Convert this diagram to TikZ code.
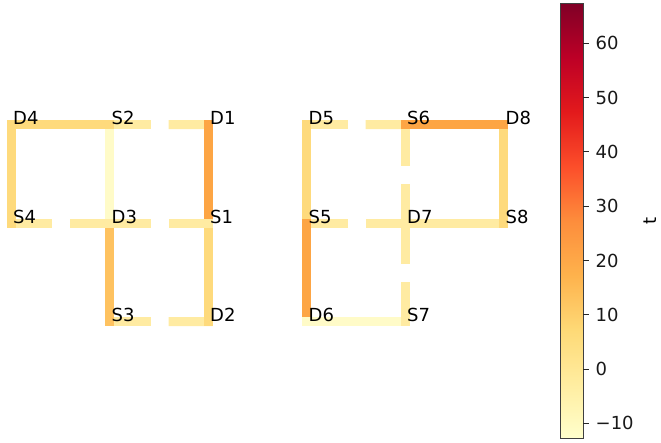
\documentclass[tikz,border=0pt]{standalone}
\usepackage{fontspec}
\setmainfont{DejaVu Sans}
\usetikzlibrary{calc}
\definecolor{cVL}{HTML}{FFFBC8}
\definecolor{cL}{HTML}{FFEBA2}
\definecolor{cG}{HTML}{FEDA7C}
\definecolor{cM}{HTML}{FEC260}
\definecolor{cO}{HTML}{FDA544}
\definecolor{yA}{HTML}{FFFFCC}
\definecolor{yB}{HTML}{FFEDA0}
\definecolor{yC}{HTML}{FED976}
\definecolor{yD}{HTML}{FEB24C}
\definecolor{yE}{HTML}{FD8D3C}
\definecolor{yF}{HTML}{FC4E2A}
\definecolor{yG}{HTML}{E31A1C}
\definecolor{yH}{HTML}{BD0026}
\definecolor{yI}{HTML}{800026}
\pgfdeclareverticalshading{ylorrd}{100bp}{color(0bp)=(yA); color(25bp)=(yA); color(31.25bp)=(yB); color(37.5bp)=(yC); color(43.75bp)=(yD); color(50bp)=(yE); color(56.25bp)=(yF); color(62.5bp)=(yG); color(68.75bp)=(yH); color(75bp)=(yI); color(100bp)=(yI)}
\tikzset{
  edge/.style={line width=9pt, line cap=rect},
  lbl/.style={anchor=base west, inner sep=0pt, xshift=2pt, font=\fontsize{18}{18}\selectfont, text=black},
  ticklbl/.style={anchor=west, inner sep=0pt, font=\fontsize{18}{18}\selectfont, text=black!90},
  tickmark/.style={line width=1pt, draw=black!85}
}
\newcommand{\gapedge}[3]{%
  \draw[edge,#3] (#1) -- ($(#1)!0.375!(#2)$);
  \draw[edge,#3] ($(#1)!0.645!(#2)$) -- (#2);}
\begin{document}
\begin{tikzpicture}[x=1pt,y=-1pt]
\useasboundingbox (0,0) rectangle (661,442);
% grid points
\coordinate (D4) at (11,124.5);
\coordinate (S2) at (109.5,124.5);
\coordinate (D1) at (208,124.5);
\coordinate (S4) at (11,223);
\coordinate (D3) at (109.5,223);
\coordinate (S1) at (208,223);
\coordinate (S3) at (109.5,321.5);
\coordinate (D2) at (208,321.5);
\coordinate (D5) at (306.5,124.5);
\coordinate (S6) at (405,124.5);
\coordinate (D8) at (503.5,124.5);
\coordinate (S5) at (306.5,223);
\coordinate (D7) at (405,223);
\coordinate (S8) at (503.5,223);
\coordinate (D6) at (306.5,321.5);
\coordinate (S7) at (405,321.5);
% left group
\draw[edge,cVL] (S2) -- (D3);
\gapedge{S2}{D1}{cL}
\gapedge{S4}{D3}{cL}
\gapedge{S3}{D2}{cL}
\draw[edge,cG] (D4) -- (S2);
\draw[edge,cG] (D4) -- (S4);
\draw[edge,cO] (D1) -- (S1);
\draw[edge,cG] (S1) -- (D2);
\draw[edge,cM] (D3) -- (S3);
\gapedge{D3}{S1}{cL}
% right group
\gapedge{D5}{S6}{cL}
\gapedge{S6}{D7}{cL}
\gapedge{S5}{D7}{cL}
\draw[edge,cL] (D7) -- (S8);
\draw[edge,cG] (D5) -- (S5);
\draw[edge,cG] (D8) -- (S8);
\draw[edge,cO] (S6) -- (D8);
\draw[edge,cO] (S5) -- (D6);
\draw[edge,cVL] (D6) -- (S7);
\gapedge{D7}{S7}{cL}
% labels
\foreach \n in {D4,S2,D1,S4,D3,S1,S3,D2,D5,S6,D8,S5,D7,S8,D6,S7}{
  \node[lbl] (l\n) at (\n) {\n};
}
% colorbar
\shade[shading=ylorrd] (560.5,3.5) rectangle (583,438);
\draw[line width=0.8pt, draw=black!75] (560.5,3.5) rectangle (583,438);
\foreach \v/\t in {60/60,50/50,40/40,30/30,20/20,10/10,0/0,-10/−10}{
  \pgfmathsetmacro{\yy}{43.3+(60-\v)*5.4286}
  \coordinate (tk\v) at (583,\yy);
  \coordinate (te\v) at (589,\yy);
  \draw[tickmark] (tk\v) -- (te\v);
  \node[ticklbl] (tl\v) at (595.5,\yy) {\t};
}
\node[rotate=90, inner sep=0pt, font=\fontsize{18}{18}\selectfont] (cbl) at (650,221) {t};
\end{tikzpicture}
\end{document}
